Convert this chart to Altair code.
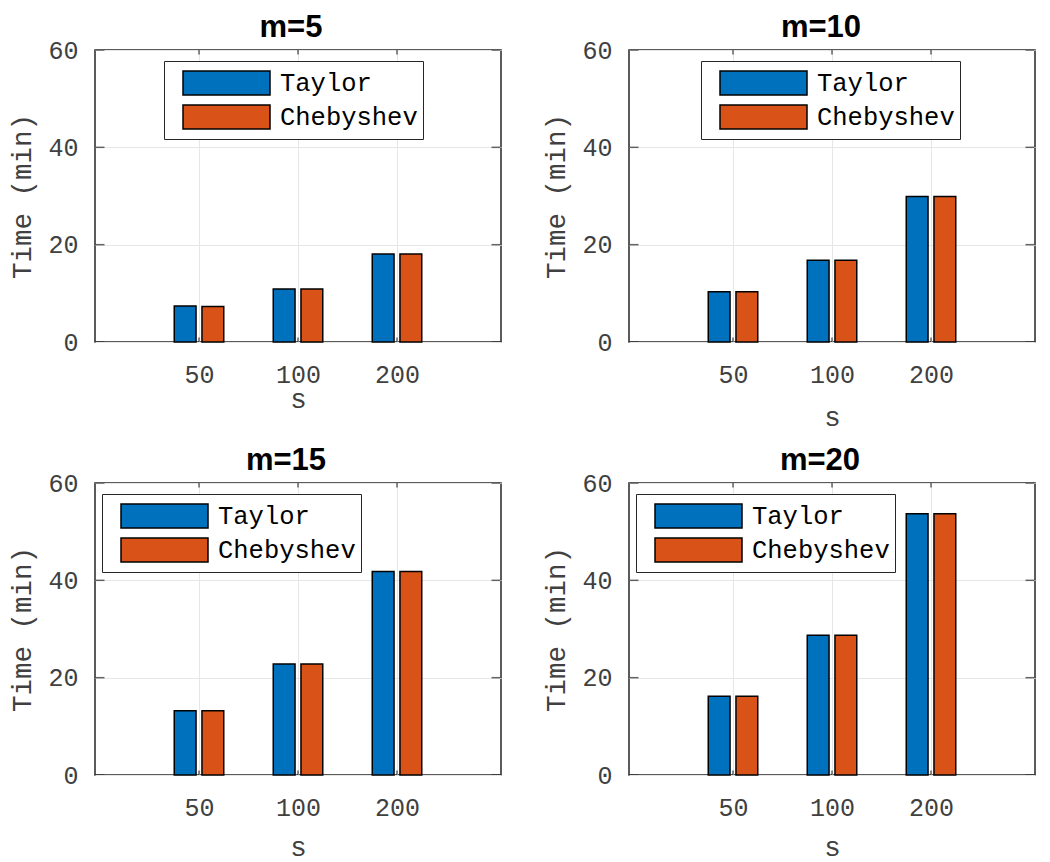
import json
import altair as alt
import pandas as pd

# ---- data ----
s_labels = ["50", "100", "200"]
methods = ["Taylor", "Chebyshev"]
colors = ["#0072BD", "#D95319"]
panel_titles = ["m=5", "m=10", "m=15", "m=20"]
taylor_m5 = [7.4, 10.9, 18.1]
cheb_m5 = [7.3, 10.9, 18.1]
taylor_m10 = [10.3, 16.8, 29.9]
cheb_m10 = [10.3, 16.8, 29.9]
taylor_m15 = [13.2, 22.8, 41.8]
cheb_m15 = [13.2, 22.8, 41.8]
taylor_m20 = [16.2, 28.7, 53.7]
cheb_m20 = [16.2, 28.7, 53.7]
y_ticks = [0, 20, 40, 60]
x_ticks = [1, 2, 3]
x_domain = [0, 4]
y_domain = [0, 60]

series = [(taylor_m5, cheb_m5), (taylor_m10, cheb_m10),
          (taylor_m15, cheb_m15), (taylor_m20, cheb_m20)]

# layout per panel: legend x, legend y, x-title padding, title dx
layout = [(69, 11, -2, -7), (72, 11, 16, -11), (7, 11, 13, -12), (7, 11, 13, -12)]

AX = "#262626"
TXT = "#404040"
MONO = "Liberation Mono"
W, H = 406, 292


def panel(i):
    tay, che = series[i]
    rows = []
    for j, lab in enumerate(s_labels):
        rows.append({"pos": x_ticks[j], "s": lab, "method": methods[0], "k": 0, "time": tay[j]})
        rows.append({"pos": x_ticks[j], "s": lab, "method": methods[1], "k": 1, "time": che[j]})
    df = pd.DataFrame(rows)
    lx, ly, xtp, tdx = layout[i]

    xscale = alt.Scale(domain=x_domain, nice=False, zero=False)
    yscale = alt.Scale(domain=y_domain, nice=False)

    xaxis = alt.Axis(values=x_ticks, labelExpr=f"{json.dumps(s_labels)}[datum.value-1]",
                     title="s", ticks=False, domain=False, grid=True,
                     labelPadding=20, titlePadding=xtp)
    yaxis = alt.Axis(values=y_ticks, title="Time (min)", ticks=False, domain=False,
                     grid=True, labelPadding=17, titlePadding=11)

    bars = alt.Chart(df).transform_calculate(
        x0="datum.pos + (datum.k == 0 ? -0.25 : 0.03)",
        x1="datum.pos + (datum.k == 0 ? -0.03 : 0.25)",
    ).mark_bar(stroke="black", strokeWidth=1.5, orient="vertical").encode(
        x=alt.X("x0:Q", scale=xscale, axis=xaxis),
        x2="x1:Q",
        y=alt.Y("time:Q", scale=yscale, axis=yaxis),
        y2=alt.datum(0),
        color=alt.Color("method:N", scale=alt.Scale(domain=methods, range=colors),
                        sort=methods,
                        legend=alt.Legend(
                            title=None, orient="none", legendX=lx, legendY=ly,
                            symbolType="M-1,-0.276H1V0.276H-1Z", symbolSize=7569,
                            symbolStrokeColor="black", symbolStrokeWidth=1.5,
                            symbolOpacity=1,
                            labelFont=MONO, labelFontSize=25.5, labelColor="black",
                            strokeColor=AX, fillColor="white", padding=5,
                            clipHeight=34, rowPadding=0, symbolOffset=13, labelOffset=9,
                        )),
    )

    ydf = pd.DataFrame([{"xe": xe, "yv": yv} for yv in y_ticks for xe in x_domain])
    xdf = pd.DataFrame([{"xv": xv, "ye": ye} for xv in x_ticks for ye in y_domain])
    yt = alt.Chart(ydf).mark_tick(orient="horizontal", size=9, thickness=1.5,
                                  color=AX, clip=True).encode(
        x=alt.X("xe:Q", scale=xscale, axis=xaxis), y=alt.Y("yv:Q", scale=yscale, axis=yaxis))
    xt = alt.Chart(xdf).mark_tick(orient="vertical", size=9, thickness=1.5,
                                  color=AX, clip=True).encode(
        x=alt.X("xv:Q", scale=xscale, axis=xaxis), y=alt.Y("ye:Q", scale=yscale, axis=yaxis))

    return alt.layer(bars, yt, xt).properties(
        width=W, height=H,
        title=alt.TitleParams(panel_titles[i], font="Liberation Sans", fontSize=31,
                              fontWeight="bold", color="black", anchor="middle",
                              baseline="alphabetic", offset=-30, dx=tdx),
    )


chart = alt.vconcat(
    alt.hconcat(panel(0), panel(1), spacing=40).resolve_legend(color="independent"),
    alt.hconcat(panel(2), panel(3), spacing=40).resolve_legend(color="independent"),
    spacing=12,
).resolve_legend(color="independent").properties(
    padding={"left": 0, "top": 3, "right": 0, "bottom": 0},
    background="white",
).configure_view(
    stroke=AX, strokeWidth=1.5,
).configure_axis(
    labelFont=MONO, labelFontSize=25, labelColor=TXT,
    titleFont=MONO, titleFontSize=27.5, titleFontWeight="normal", titleColor=TXT,
    gridColor="#e6e6e6", gridWidth=1,
)

chart.save("out.html", embed_options={"renderer": "svg", "actions": False})
